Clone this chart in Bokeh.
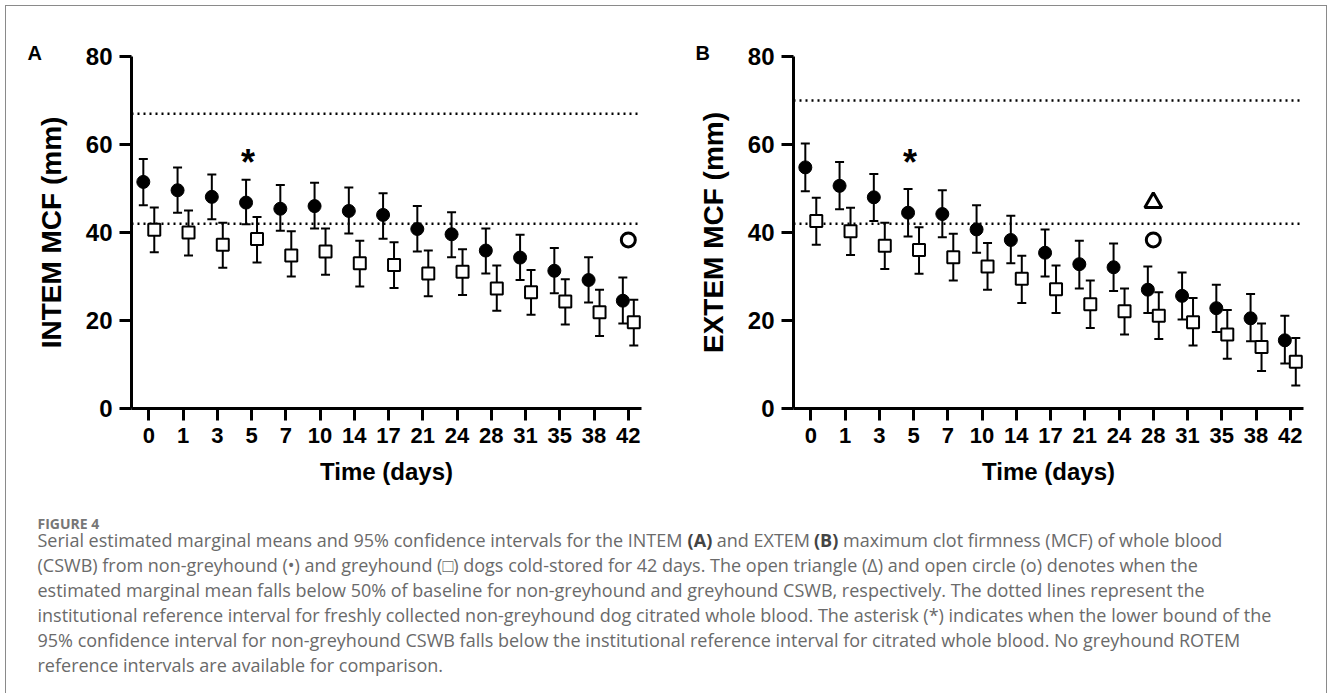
import numpy as np
from bokeh.plotting import figure
from bokeh.layouts import row, column
from bokeh.models import (Range1d, FixedTicker, Span, Whisker, TeeHead,
                          ColumnDataSource)
from bokeh.core.properties import value
from bokeh.embed import file_html
from bokeh.resources import INLINE

# ---------------- data ----------------
days = ["0", "1", "3", "5", "7", "10", "14", "17", "21", "24", "28", "31", "35", "38", "42"]

intem_ng_mean = [51.5, 49.6, 48.1, 46.8, 45.4, 46.0, 44.9, 44.0, 40.8, 39.6, 35.9, 34.3, 31.3, 29.2, 24.5]
intem_ng_low = [46.2, 44.5, 43.0, 41.9, 40.4, 40.9, 39.8, 38.6, 35.7, 34.4, 30.7, 29.2, 26.2, 24.1, 19.3]
intem_ng_up = [56.7, 54.8, 53.2, 52.0, 50.8, 51.3, 50.2, 48.9, 46.0, 44.6, 40.9, 39.5, 36.5, 34.4, 29.8]

intem_gh_mean = [40.6, 40.0, 37.2, 38.5, 34.8, 35.7, 33.0, 32.6, 30.7, 31.1, 27.3, 26.4, 24.3, 21.9, 19.6]
intem_gh_low = [35.5, 34.8, 32.0, 33.2, 30.0, 30.4, 27.7, 27.4, 25.5, 25.8, 22.2, 21.3, 19.1, 16.5, 14.3]
intem_gh_up = [45.7, 45.0, 42.2, 43.5, 40.3, 40.9, 38.1, 37.8, 35.9, 36.2, 32.5, 31.5, 29.4, 27.0, 24.7]

extem_ng_mean = [54.8, 50.6, 48.0, 44.5, 44.2, 40.7, 38.3, 35.4, 32.8, 32.1, 27.0, 25.6, 22.8, 20.5, 15.5]
extem_ng_low = [49.4, 45.3, 42.6, 39.1, 38.9, 35.4, 33.0, 30.0, 27.3, 26.7, 21.7, 20.2, 17.4, 15.3, 10.2]
extem_ng_up = [60.2, 56.0, 53.3, 49.9, 49.6, 46.2, 43.8, 40.7, 38.1, 37.5, 32.3, 30.9, 28.1, 26.0, 21.1]

extem_gh_mean = [42.6, 40.3, 37.0, 36.0, 34.4, 32.3, 29.5, 27.1, 23.7, 22.1, 21.1, 19.6, 16.8, 14.0, 10.6]
extem_gh_low = [37.2, 34.9, 31.7, 30.6, 29.1, 27.0, 24.0, 21.7, 18.3, 16.8, 15.8, 14.3, 11.3, 8.5, 5.2]
extem_gh_up = [47.9, 45.6, 42.2, 41.2, 39.7, 37.6, 34.7, 32.5, 29.1, 27.3, 26.4, 25.1, 22.4, 19.3, 16.0]

intem_ref = [42, 67]
extem_ref = [42, 70]

# annotation marks: (day label, value)
intem_star = ("5", 57.2)
extem_star = ("5", 57.2)
intem_open_circle = ("42", 38.3)
extem_open_circle = ("28", 38.3)
extem_open_triangle = ("28", 46.8)

y_ticks = [0, 20, 40, 60, 80]

caption_title = "FIGURE 4"
# first caption line, as (text, bold) segments
caption_first = [
    ("Serial estimated marginal means and 95% confidence intervals for the INTEM ", False),
    ("(A)", True),
    (" and EXTEM ", False),
    ("(B)", True),
    (" maximum clot firmness (MCF) of whole blood", False),
]
caption_rest = [
    "(CSWB) from non-greyhound (\u2022) and greyhound (\u25a1) dogs cold-stored for 42 days. The open triangle (\u0394) and open circle (o) denotes when the",
    "estimated marginal mean falls below 50% of baseline for non-greyhound and greyhound CSWB, respectively. The dotted lines represent the",
    "institutional reference interval for freshly collected non-greyhound dog citrated whole blood. The asterisk (*) indicates when the lower bound of the",
    "95% confidence interval for non-greyhound CSWB falls below the institutional reference interval for citrated whole blood. No greyhound ROTEM",
    "reference intervals are available for comparison.",
]

# ---------------- styling ----------------
BOLD_FONT = "Liberation Sans"
DODGE = 0.16
idx = np.arange(len(days))
pos = {d: i for i, d in enumerate(days)}
XR = (-0.505, 14.385)
FRAME_W = 510
FIG_H = 499
TOP = 50
FRAME_H = 352
BOTTOM = FIG_H - TOP - FRAME_H


def make_panel(letter, letter_off, ylabel, ng_mean, ng_low, ng_up, gh_mean, gh_low, gh_up,
               refs, star, circles, triangles, width, left):
    p = figure(width=width, height=FIG_H, x_range=Range1d(*XR),
               y_range=Range1d(0, 80), output_backend="svg",
               toolbar_location=None, min_border_left=left,
               min_border_right=width - left - FRAME_W, min_border_top=TOP,
               min_border_bottom=BOTTOM)
    p.outline_line_color = None
    p.xgrid.visible = False
    p.ygrid.visible = False
    p.background_fill_color = "white"
    p.border_fill_color = "white"

    # panel letter as the title, pushed left of the plot frame
    p.title.text = letter
    p.title.align = "left"
    p.title.offset = letter_off
    p.title.standoff = -15
    p.title.text_font = BOLD_FONT
    p.title.text_font_style = "bold"
    p.title.text_font_size = "20px"
    p.title.text_color = "black"

    for ax in (p.xaxis[0], p.yaxis[0]):
        ax.axis_line_width = 3
        ax.major_tick_line_width = 3
        ax.major_tick_in = 0
        ax.minor_tick_line_color = None
        ax.major_label_text_font = BOLD_FONT
        ax.major_label_text_font_style = "bold"
        ax.axis_label_text_font = BOLD_FONT
        ax.axis_label_text_font_style = "bold"
        ax.axis_label_text_color = "black"
        ax.major_label_text_color = "black"

    ya = p.yaxis[0]
    ya.ticker = FixedTicker(ticks=y_ticks)
    ya.major_tick_out = 12
    ya.major_label_text_font_size = "24px"
    ya.major_label_standoff = 7
    ya.axis_label = ylabel
    ya.axis_label_text_font_size = "28px"
    ya.axis_label_standoff = 16

    xa = p.xaxis[0]
    xa.ticker = FixedTicker(ticks=list(idx))
    xa.major_label_overrides = {int(i): d for i, d in zip(idx, days)}
    xa.major_tick_out = 12
    xa.major_label_text_font_size = "22px"
    xa.major_label_standoff = 7
    xa.axis_label = "Time (days)"
    xa.axis_label_text_font_size = "24px"
    xa.axis_label_standoff = 12

    for r in refs:
        p.add_layout(Span(location=r, dimension="width", line_color="black",
                          line_width=2.5, line_dash="2 4", level="underlay"))

    src_ng = ColumnDataSource(dict(x=idx - DODGE, m=ng_mean, lo=ng_low, up=ng_up))
    src_gh = ColumnDataSource(dict(x=idx + DODGE, m=gh_mean, lo=gh_low, up=gh_up))
    for src in (src_ng, src_gh):
        p.add_layout(Whisker(source=src, base="x", lower="lo", upper="up",
                             dimension="height", line_width=2, line_color="black",
                             level="underlay",
                             upper_head=TeeHead(size=9, line_width=2, line_color="black"),
                             lower_head=TeeHead(size=9, line_width=2, line_color="black")))
    p.scatter("x", "m", source=src_ng, marker="circle", size=13,
              fill_color="black", line_color="black")
    p.scatter("x", "m", source=src_gh, marker="square", size=12,
              fill_color="white", line_color="black", line_width=2)

    p.text(x=[pos[star[0]] - 0.1], y=[star[1]], text=["*"],
           text_font=value(BOLD_FONT), text_font_style="bold",
           text_font_size="36px", text_align="center", text_baseline="middle",
           y_offset=6, text_color="black")
    if circles:
        p.scatter([pos[c[0]] for c in circles], [c[1] for c in circles],
                  marker="circle", size=14, fill_color="white",
                  line_color="black", line_width=3)
    if triangles:
        p.scatter([pos[t[0]] for t in triangles], [t[1] for t in triangles],
                  marker="triangle", size=17, fill_color="white",
                  line_color="black", line_width=3)
    return p


pA = make_panel("A", -104, "INTEM MCF (mm)", intem_ng_mean, intem_ng_low, intem_ng_up,
                intem_gh_mean, intem_gh_low, intem_gh_up, intem_ref,
                intem_star, [intem_open_circle], [], 658, 125)
pB = make_panel("B", -98, "EXTEM MCF (mm)", extem_ng_mean, extem_ng_low, extem_ng_up,
                extem_gh_mean, extem_gh_low, extem_gh_up, extem_ref,
                extem_star, [extem_open_circle], [extem_open_triangle], 662, 129)

# ---------------- caption ----------------
# approximate Open Sans advance widths (em) used to place the bold runs
OS_REG = {' ': .26, 'S': .55, 'e': .561, 'r': .408, 'i': .253, 'a': .556, 'l': .253,
          's': .477, 't': .353, 'm': .93, 'd': .613, 'g': .548, 'n': .614, '9': .572,
          '5': .572, '%': .828, 'c': .476, 'o': .604, 'f': .339, 'v': .501, 'h': .614,
          'I': .303, 'N': .751, 'T': .537, 'E': .549, 'M': .903, 'X': .56, 'x': .524,
          'u': .614, 'C': .634, 'F': .502, '(': .291, ')': .291, 'w': .778, 'b': .613}
OS_BOLD = {'(': .332, ')': .332, 'A': .695, 'B': .686}
CAP_FS = 18
CAP_H = 188
X0 = 31
cap = figure(width=1320, height=CAP_H, x_range=Range1d(0, 1320),
             y_range=Range1d(CAP_H, 0), output_backend="svg",
             toolbar_location=None, min_border=0)
cap.axis.visible = False
cap.grid.visible = False
cap.outline_line_color = None
cap.text(x=[X0], y=[18], text=[caption_title], text_font=value("Open Sans"),
         text_font_style="bold", text_font_size="14px", text_color="#777777",
         text_baseline="middle")


def run_width(txt, b):
    table = OS_BOLD if b else OS_REG
    return sum(table.get(ch, OS_REG.get(ch, .55)) for ch in txt) * CAP_FS


LINE1_Y = 34
LINE_STEP = 25
xs, ts, bold = [], [], []
cur = X0
for txt, b in caption_first:
    lead = len(txt) - len(txt.lstrip(" "))
    xs.append(cur + run_width(" " * lead, False))
    ts.append(txt.strip(" "))
    bold.append(b)
    cur += run_width(txt, b)
for b in (False, True):
    sel = [k for k in range(len(ts)) if bold[k] == b]
    cap.text(x=[xs[k] for k in sel], y=[LINE1_Y] * len(sel), text=[ts[k] for k in sel],
             text_font=value("Open Sans"), text_font_style="bold" if b else "normal",
             text_font_size=f"{CAP_FS}px", text_color="#444444" if b else "#6a6a6a",
             text_baseline="middle")
rest_y = [LINE1_Y + LINE_STEP * (i + 1) for i in range(len(caption_rest))]
cap.text(x=[X0] * len(caption_rest), y=rest_y, text=caption_rest,
         text_font=value("Open Sans"), text_font_size=f"{CAP_FS}px",
         text_color="#6a6a6a", text_baseline="middle")

root = column(row(pA, pB), cap,
              styles={"border-top": "1px solid #8a8a8a",
                      "border-left": "1px solid #8a8a8a",
                      "border-right": "1px solid #8a8a8a",
                      "margin-left": "5px", "margin-top": "5px"})

open("out.html", "w").write(file_html(root, INLINE))
